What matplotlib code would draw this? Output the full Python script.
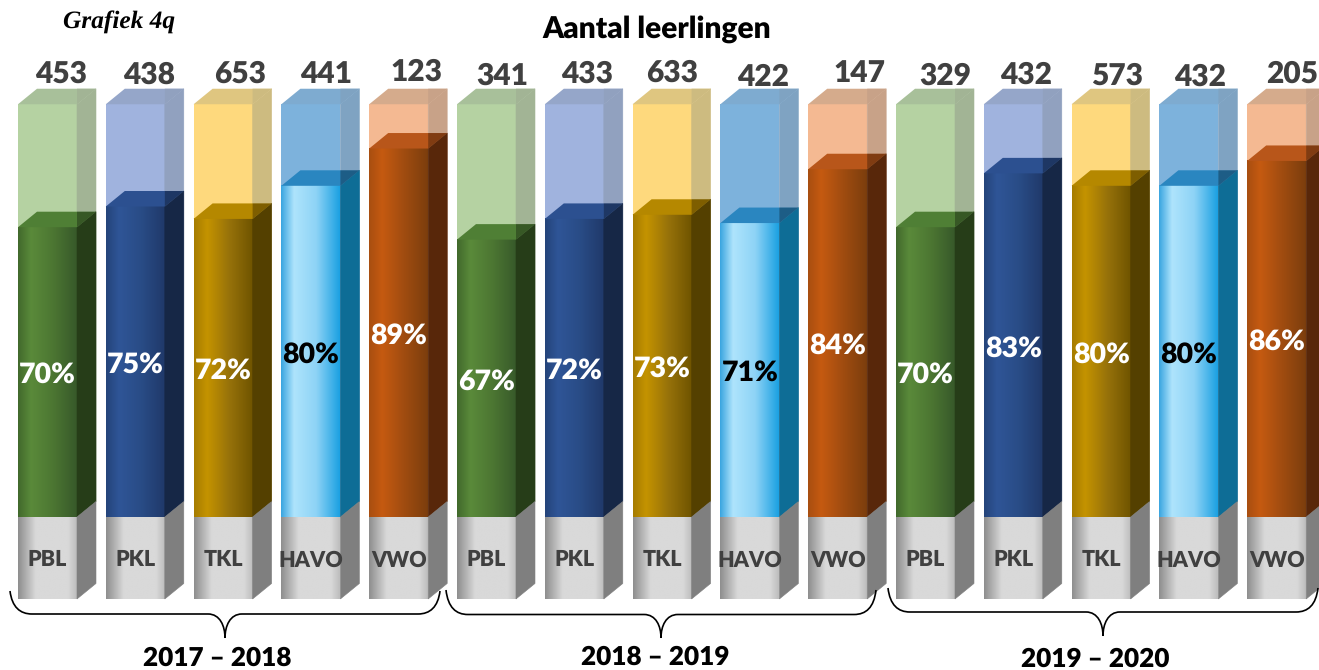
import numpy as np
import matplotlib
matplotlib.use('Agg')
import matplotlib.pyplot as plt
from matplotlib.colors import LinearSegmentedColormap
from matplotlib.patches import Polygon, PathPatch
from matplotlib.path import Path

# Values
years = ['2017 – 2018', '2018 – 2019', '2019 – 2020']
types = ['PBL', 'PKL', 'TKL', 'HAVO', 'VWO']
totals = [453, 438, 653, 441, 123, 341, 433, 633, 422, 147, 329, 432, 573, 432, 205]
percent = [70, 75, 72, 80, 89, 67, 72, 73, 71, 84, 70, 83, 80, 80, 86]

# Colours per type: front gradient stops, side, top, pale front, pale side, pale top
dark_stops = {
    'PBL': ['#41692c', '#5a8a3a', '#4c7632', '#37592a'],
    'PKL': ['#24447a', '#2f5597', '#294c86', '#20396a'],
    'TKL': ['#a67c00', '#c49300', '#97720a', '#6f5400'],
    'HAVO': ['#3aa5e0', '#aee4fc', '#8ed3f6', '#1ba1e2'],
    'VWO': ['#a84e10', '#c55a11', '#a04c10', '#7c3e0d'],
}
dark_side = {'PBL': '#263d18', 'PKL': '#162746', 'TKL': '#544000', 'HAVO': '#0e6d96', 'VWO': '#58270a'}
dark_top = {'PBL': '#4f7f35', 'PKL': '#2c5090', 'TKL': '#b58800', 'HAVO': '#2a86c0', 'VWO': '#b8561a'}
pale_front = {'PBL': '#b5d2a2', 'PKL': '#a0b3de', 'TKL': '#fed97d', 'HAVO': '#7db2dc', 'VWO': '#f4b992'}
pale_side = {'PBL': '#a2b495', 'PKL': '#91a1bf', 'TKL': '#cdbb80', 'HAVO': '#7fa3c2', 'VWO': '#c8a288'}
pale_top = {'PBL': '#a8c09a', 'PKL': '#95a6c9', 'TKL': '#dfc680', 'HAVO': '#7eabd0', 'VWO': '#d5ab8c'}
label_colour = {'PBL': 'white', 'PKL': 'white', 'TKL': 'white', 'HAVO': 'black', 'VWO': 'white'}

plt.rcParams['font.family'] = ['Lato', 'DejaVu Sans']
plt.rcParams['text.hinting'] = 'no_hinting'

W, H = 1319, 670
fig = plt.figure(figsize=(W / 100, H / 100), dpi=100)
ax = fig.add_axes([0, 0, 1, 1])

# one x unit = one bar slot, one y unit = one percent point
px_x = 87.8
px_y = 4.14
x0_px = 47.5
y0_px = 517
xlim = (-x0_px / px_x, (W - x0_px) / px_x)
ylim = ((y0_px - H) / px_y, y0_px / px_y)
bar_w = 59 / px_x
dx = 19 / px_x
dy = 15.5 / px_y
full = 99.7
floor = -19.8


def px(x, y):
    # reference pixel to data coordinates, only for decoration and text
    return (x - x0_px) / px_x, (y0_px - y) / px_y


def gradient_face(x, y0, y1, stops, pos, z):
    cmap = LinearSegmentedColormap.from_list('f', list(zip(pos, stops)))
    grad = np.linspace(0, 1, 128).reshape(1, -1)
    ax.imshow(grad, cmap=cmap, aspect='auto', zorder=z, interpolation='bilinear',
              extent=(x - bar_w / 2, x + bar_w / 2, y0, y1))


def side(x, y0, y1, colour, z):
    r = x + bar_w / 2
    ax.add_patch(Polygon([(r, y0), (r + dx, y0 + dy), (r + dx, y1 + dy), (r, y1)],
                         facecolor=colour, edgecolor=colour, linewidth=0.4, zorder=z))


def top(x, y, colour, corner, alpha, z):
    l, r = x - bar_w / 2, x + bar_w / 2
    ax.add_patch(Polygon([(l, y), (r, y), (r + dx, y + dy), (l + dx, y + dy)],
                         facecolor=colour, edgecolor='none', zorder=z))
    # the part behind the side face reads darker
    ax.add_patch(Polygon([(r, y), (r + dx, y + dy), (r, y + dy)],
                         facecolor=corner, alpha=alpha, edgecolor='none', zorder=z))


for i, p in enumerate(percent):
    t = types[i % 5]
    # pale full column
    ax.bar(i, full, bar_w, color=pale_front[t], zorder=1)
    side(i, 0, full, pale_side[t], 1)
    top(i, full, pale_top[t], pale_side[t], 1, 1)
    # coloured share
    gradient_face(i, 0, p, dark_stops[t], [0, 0.22, 0.6, 1], 2)
    side(i, 0, p, dark_side[t], 2)
    top(i, p, dark_top[t], 'black', 0.3, 2)
    # grey base
    gradient_face(i, floor, 0, ['#8e8e8e', '#d9d9d9', '#d9d9d9', '#bdbdbd'], [0, 0.3, 0.85, 1], 3)
    side(i, floor, 0, '#7f7f7f', 3)
    ax.text(i, p / 2 - 0.7, f'{p}%', ha='center', va='center', fontsize=20.5, fontweight='heavy',
            color=label_colour[t], zorder=5)
    ax.text(i, floor / 2 - 0.5, t, ha='center', va='center', fontsize=15.5, fontweight='heavy',
            color='#404040', zorder=5)

# total labels, they sit by hand in the original
total_x = [61, 149, 240, 326, 416, 502, 587, 672, 763, 859, 945, 1026, 1117, 1200, 1292]
total_y = [74, 75, 74, 74, 72, 76, 74, 73, 77, 73, 76, 75, 76, 77, 74]
for v, xp, yp in zip(totals, total_x, total_y):
    ax.text(*px(xp, yp), str(v), ha='center', va='center', fontsize=21.5, fontweight='heavy', color='#404040')

ax.text(*px(657, 29), 'Aantal leerlingen', ha='center', va='center', fontsize=21.5, fontweight='heavy', color='black')
ax.text(*px(119, 22), 'Grafiek 4q', ha='center', va='center', fontsize=18.3, fontweight='bold',
        fontstyle='italic', family='Liberation Serif', color='black')


def brace(x0, x1, y0, ym, y1):
    xm = (x0 + x1) / 2
    verts = [(x0, y0), (x0 + 2, ym - 7), (x0 + 10, ym), (x0 + 22, ym),
             (xm - 17, ym), (xm - 17, ym), (xm - 17, ym),
             (xm - 5, ym), (xm, y1 - 12), (xm, y1),
             (xm, y1 - 12), (xm + 5, ym), (xm + 17, ym),
             (x1 - 22, ym), (x1 - 22, ym), (x1 - 22, ym),
             (x1 - 10, ym), (x1 - 2, ym - 7), (x1, y0)]
    codes = [Path.MOVETO] + [Path.CURVE4] * 18
    ax.add_patch(PathPatch(Path([px(*v) for v in verts], codes), facecolor='none',
                           edgecolor='black', linewidth=1.2, zorder=4))


brace(10, 440, 591, 614, 638)
brace(446, 876, 590, 614.5, 638)
brace(888, 1318, 588, 612, 636)

year_x = [217, 655, 1095]
year_y = [658, 657, 659]
for y, xp, yp in zip(years, year_x, year_y):
    ax.text(*px(xp, yp), y, ha='center', va='center', fontsize=18.8, fontweight='heavy', color='black')

ax.set_xlim(xlim)
ax.set_ylim(ylim)
ax.axis('off')
fig.savefig('out.png', dpi=100)
